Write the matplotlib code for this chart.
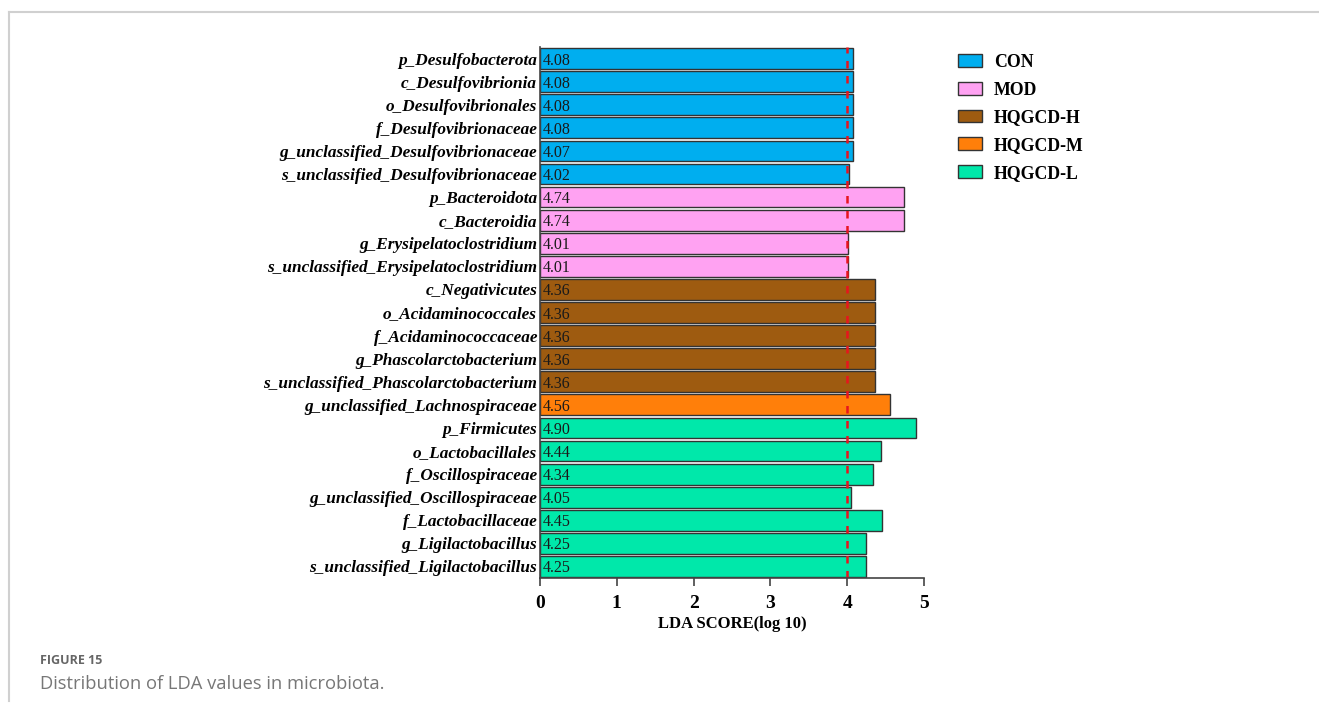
import matplotlib.pyplot as plt
from matplotlib.patches import Patch
from matplotlib.lines import Line2D

taxa = [
    "p_Desulfobacterota", "c_Desulfovibrionia", "o_Desulfovibrionales",
    "f_Desulfovibrionaceae", "g_unclassified_Desulfovibrionaceae",
    "s_unclassified_Desulfovibrionaceae", "p_Bacteroidota", "c_Bacteroidia",
    "g_Erysipelatoclostridium", "s_unclassified_Erysipelatoclostridium",
    "c_Negativicutes", "o_Acidaminococcales", "f_Acidaminococcaceae",
    "g_Phascolarctobacterium", "s_unclassified_Phascolarctobacterium",
    "g_unclassified_Lachnospiraceae", "p_Firmicutes", "o_Lactobacillales",
    "f_Oscillospiraceae", "g_unclassified_Oscillospiraceae",
    "f_Lactobacillaceae", "g_Ligilactobacillus", "s_unclassified_Ligilactobacillus",
]
lda = [4.08, 4.08, 4.08, 4.08, 4.07, 4.02, 4.74, 4.74, 4.01, 4.01,
       4.36, 4.36, 4.36, 4.36, 4.36, 4.56, 4.90, 4.44, 4.34, 4.05,
       4.45, 4.25, 4.25]
groups = ["CON"] * 6 + ["MOD"] * 4 + ["HQGCD-H"] * 5 + ["HQGCD-M"] + ["HQGCD-L"] * 7

group_names = ["CON", "MOD", "HQGCD-H", "HQGCD-M", "HQGCD-L"]
group_colors = ["#00AEEF", "#FFA2F2", "#9E5B10", "#FF7F0A", "#00E8AA"]
threshold = 4

serif = "Liberation Serif"
color_of = dict(zip(group_names, group_colors))

fig = plt.figure(figsize=(13.19, 7.15), dpi=100)
ax = fig.add_axes([0.4094, 0.1916, 0.2911, 0.7426])

ypos = list(range(len(taxa)))[::-1]
ax.barh(ypos, lda, height=0.9, color=[color_of[g] for g in groups],
        edgecolor="#333333", linewidth=1.0)
for y, v in zip(ypos, lda):
    ax.text(0.03, y, f"{v:.2f}", va="center_baseline", ha="left", fontsize=11.5,
            family=serif, color="#1a1a1a")

ax.axvline(threshold, color="#E8141E", linestyle=(0, (3, 3)), linewidth=1.8)

ax.set_xlim(0, 5)
ax.set_ylim(-0.5, len(taxa) - 0.5)
ax.set_yticks(ypos)
ax.set_yticklabels(taxa, fontsize=12.4, family=serif, fontweight="bold", style="italic")
ax.tick_params(axis="y", length=0, pad=2)
ax.set_xticks(range(6))
ax.set_xticklabels([str(i) for i in range(6)], fontsize=14, family=serif, fontweight="bold")
ax.tick_params(axis="x", length=6, width=1.2, color="#444444", pad=6)
ax.set_xlabel("LDA SCORE(log 10)", fontsize=12, family=serif, fontweight="bold", labelpad=3)
for side in ["top", "right"]:
    ax.spines[side].set_visible(False)
for side in ["left", "bottom"]:
    ax.spines[side].set_color("#444444")
    ax.spines[side].set_linewidth(1.2)

handles = [Patch(facecolor=c, edgecolor="#333333", linewidth=1.0) for c in group_colors]
fig.legend(handles, group_names, loc="upper left", bbox_to_anchor=(0.714, 0.947),
           frameon=False, prop={"family": serif, "weight": "bold", "size": 12.8},
           handlelength=1.35, handleheight=0.7, labelspacing=0.6, handletextpad=0.7)

# page frame lines
fig.add_artist(Line2D([0.007, 1.0], [0.983, 0.983], color="#d0d0d0", linewidth=1.5))
fig.add_artist(Line2D([0.007, 0.007], [0.02, 0.983], color="#d0d0d0", linewidth=1.5))

fig.text(0.030, 0.072, "FIGURE 15", fontsize=9, family="Open Sans", color="#666666",
         fontweight="bold")
fig.text(0.030, 0.036, "Distribution of LDA values in microbiota.", fontsize=13.2,
         family="Open Sans", color="#777777")

fig.savefig("out.png", dpi=100)
